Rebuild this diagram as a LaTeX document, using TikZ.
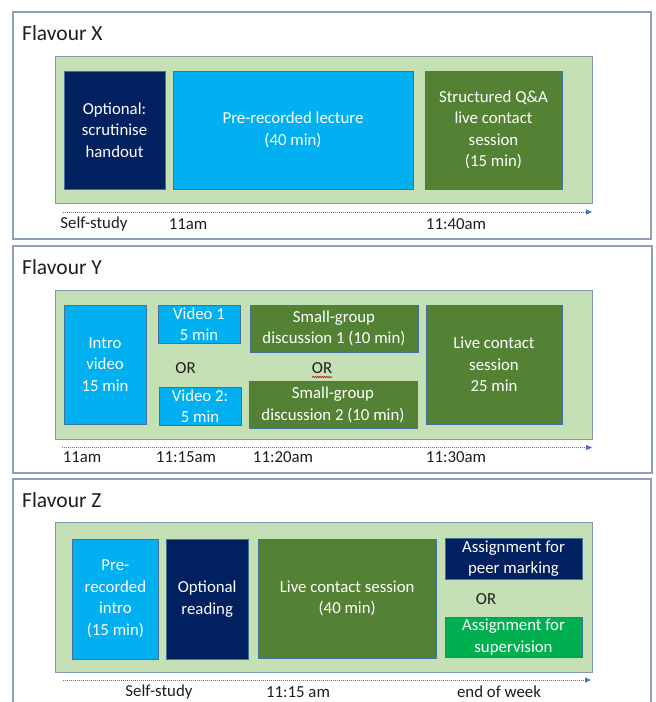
\documentclass[tikz,border=0pt]{standalone}
\usepackage{fontspec}
\setmainfont{Carlito}
\usetikzlibrary{arrows.meta,decorations.pathmorphing}

\definecolor{navy}{HTML}{002060}
\definecolor{skyblue}{HTML}{00B0F0}
\definecolor{darkgreen}{HTML}{548235}
\definecolor{brightgreen}{HTML}{00B050}
\definecolor{areagreen}{HTML}{C5E0B4}
\definecolor{areaedge}{HTML}{8497B0}
\definecolor{boxedge}{HTML}{41719C}
\definecolor{frameedge}{HTML}{8FA0BE}
\definecolor{timeline}{HTML}{4472C4}
\definecolor{labeltext}{HTML}{1E1E1E}

\newcommand{\titlefont}{\fontsize{21.5}{26}\selectfont}
\newcommand{\boxfont}{\fontsize{16.8}{21.5}\selectfont}
\newcommand{\labelfont}{\fontsize{16.8}{20}\selectfont}

\tikzset{
  panelframe/.style={draw=frameedge, line width=1.2pt, fill=white},
  area/.style={draw=areaedge, line width=1pt, fill=areagreen},
  blk/.style={draw=boxedge, line width=0.8pt, inner sep=0pt, text=white,
              align=center, font=\boxfont},
  paneltitle/.style={anchor=west, inner sep=0pt, text=labeltext, font=\titlefont},
  timelabel/.style={inner sep=0pt, text=labeltext, font=\labelfont},
  ortext/.style={inner sep=0pt, text=labeltext, font=\labelfont},
  timeaxis/.style={draw=timeline, line width=1pt, dash pattern=on 1pt off 1pt,
                   -{Triangle[length=6pt,width=5pt]}},
}

\begin{document}
\begin{tikzpicture}[x=1pt,y=-1pt]
\useasboundingbox (0,0) rectangle (656,702);
\fill[white] (0,0) rectangle (656,702);

% ---------------- Flavour X ----------------
\draw[panelframe] (13,12) rectangle (651,239);
\node[paneltitle] (xtitle) at (22,33) {Flavour X};
\draw[area] (55.5,56.5) rectangle (592,203.5);
\node[blk, fill=navy, minimum width=101pt, minimum height=118pt] (xopt) at (114.5,130)
  {Optional:\\scrutinise\\handout};
\node[blk, fill=skyblue, minimum width=240pt, minimum height=118pt] (xlec) at (293,130)
  {Pre-recorded lecture\\(40 min)};
\node[blk, fill=darkgreen, minimum width=137pt, minimum height=118pt] (xqa) at (493.5,130)
  {Structured Q\&A\\live contact\\session\\(15 min)};
\coordinate (xs) at (63,212);
\coordinate (xe) at (592,212);
\draw[timeaxis] (xs) -- (xe);
\node[timelabel] (xt1) at (94,224) {Self-study};
\node[timelabel] (xt2) at (188,224) {11am};
\node[timelabel] (xt3) at (456,224) {11:40am};

% ---------------- Flavour Y ----------------
\draw[panelframe] (13,246) rectangle (652,473);
\node[paneltitle] (ytitle) at (22,267) {Flavour Y};
\draw[area] (55.5,290.5) rectangle (592.5,439);
\node[blk, fill=skyblue, minimum width=82pt, minimum height=119pt] (yintro) at (105,364.5)
  {Intro\\video\\15 min};
\node[blk, fill=skyblue, minimum width=82pt, minimum height=38pt] (yv1) at (199,324)
  {Video 1\\5 min};
\node[blk, fill=skyblue, minimum width=82pt, minimum height=38pt] (yv2) at (200,406)
  {Video 2:\\5 min};
\node[blk, fill=darkgreen, minimum width=168pt, minimum height=47pt] (ysg1) at (334,328.5)
  {Small-group\\discussion 1 (10 min)};
\node[blk, fill=darkgreen, minimum width=168pt, minimum height=46.5pt] (ysg2) at (333,404.75)
  {Small-group\\discussion 2 (10 min)};
\node[blk, fill=darkgreen, minimum width=136pt, minimum height=119pt] (ylive) at (494,364.5)
  {Live contact\\session\\25 min};
\node[ortext] (yor1) at (185.5,368) {OR};
\node[ortext] (yor2) at (322,368) {OR};
\draw[red!80!black, line width=0.6pt,
      decorate, decoration={snake, amplitude=0.7pt, segment length=2.4pt}]
  (312,377) -- (332,377);
\coordinate (ys) at (62,447.5);
\coordinate (ye) at (592,447.5);
\draw[timeaxis] (ys) -- (ye);
\node[timelabel] (yt1) at (82,457) {11am};
\node[timelabel] (yt2) at (186,457) {11:15am};
\node[timelabel] (yt3) at (283,457) {11:20am};
\node[timelabel] (yt4) at (456,457) {11:30am};

% ---------------- Flavour Z ----------------
\draw[panelframe] (13,479) rectangle (651,720);
\node[paneltitle] (ztitle) at (22,500) {Flavour Z};
\draw[area] (55.5,522.5) rectangle (592.5,672);
\node[blk, fill=skyblue, minimum width=85.8pt, minimum height=120pt] (zpre) at (115.4,599)
  {Pre-\\recorded\\intro\\(15 min)};
\node[blk, fill=navy, minimum width=82.3pt, minimum height=120pt] (zopt) at (207.2,599)
  {Optional\\reading};
\node[blk, fill=darkgreen, minimum width=178.4pt, minimum height=119pt] (zlive) at (347.2,598.5)
  {Live contact session\\(40 min)};
\node[blk, fill=navy, minimum width=137pt, minimum height=41pt] (zpeer) at (513.5,558.5)
  {Assignment for\\peer marking};
\node[blk, fill=brightgreen, minimum width=137pt, minimum height=40pt] (zsup) at (513.5,637)
  {Assignment for\\supervision};
\node[ortext] (zor) at (486,599) {OR};
\coordinate (zs) at (63,680);
\coordinate (ze) at (591,680);
\draw[timeaxis] (zs) -- (ze);
\node[timelabel] (zt1) at (159,692) {Self-study};
\node[timelabel] (zt2) at (298,692) {11:15 am};
\node[timelabel] (zt3) at (499,692) {end of week};
\end{tikzpicture}
\end{document}
